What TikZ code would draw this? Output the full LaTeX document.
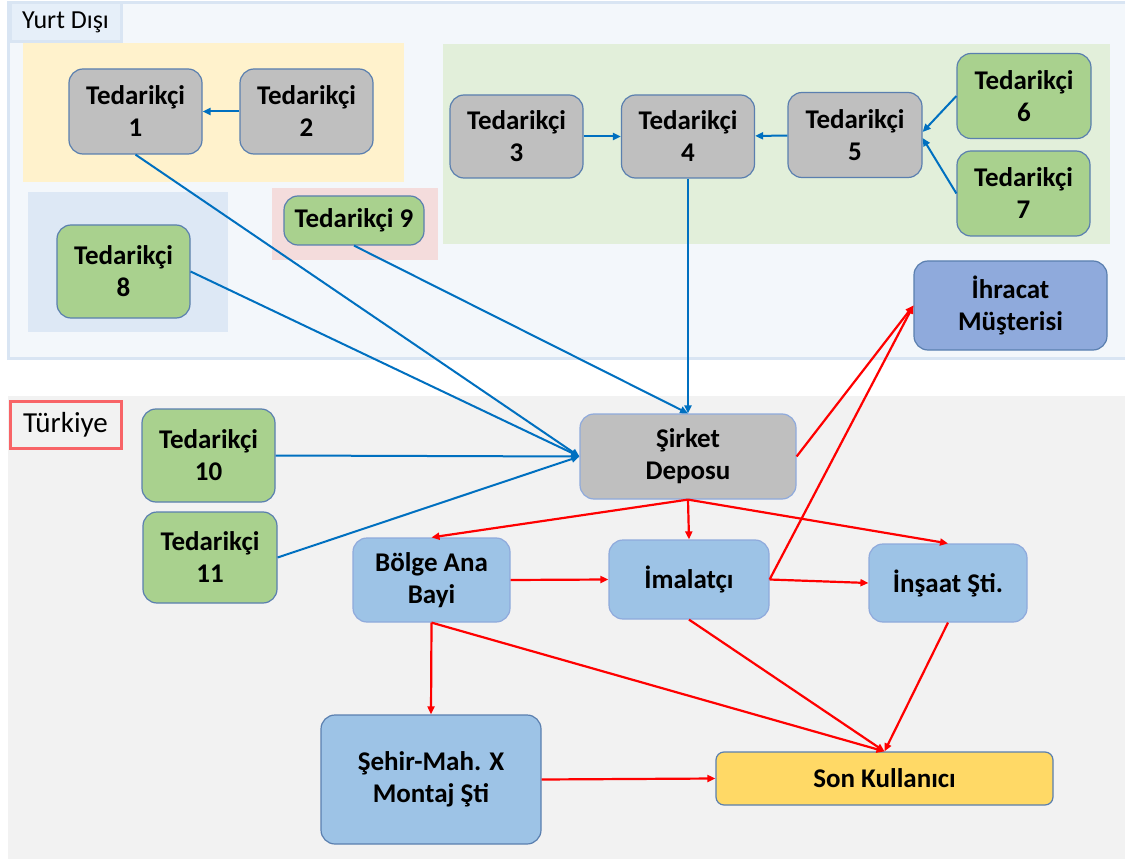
\documentclass[tikz,border=0pt]{standalone}
\usepackage{fontspec}
\setmainfont{Carlito}
\usetikzlibrary{arrows.meta}

\definecolor{outerfill}{HTML}{F3F7FB}
\definecolor{outerline}{HTML}{D9E5F3}
\definecolor{labelfill}{HTML}{E6EFF9}
\definecolor{yellowzone}{HTML}{FFF2CC}
\definecolor{bluezone}{HTML}{DDE8F5}
\definecolor{pinkzone}{HTML}{F4DCDC}
\definecolor{greenzone}{HTML}{E2EFDA}
\definecolor{grayzone}{HTML}{F2F2F2}
\definecolor{turkred}{HTML}{F86467}
\definecolor{boxgray}{HTML}{BFBFBF}
\definecolor{boxgreen}{HTML}{A9D18E}
\definecolor{boxblue}{HTML}{9DC3E6}
\definecolor{boxexport}{HTML}{8FAADC}
\definecolor{boxyellow}{HTML}{FFD966}
\definecolor{edgedark}{HTML}{5A7FAF}
\definecolor{edgelight}{HTML}{8FAADC}
\definecolor{lineblue}{HTML}{0070C0}
\definecolor{linered}{HTML}{FF0000}

\begin{document}
\begin{tikzpicture}[x=1pt,y=-1pt,
  box/.style={rounded corners=14pt, line width=1.2pt, align=center, inner sep=2pt,
    font=\bfseries\fontsize{27}{32}\selectfont},
  graybox/.style={box, fill=boxgray, draw=edgedark},
  greenbox/.style={box, fill=boxgreen, draw=edgedark},
  bluebox/.style={box, fill=boxblue, draw=edgelight},
  tsize/.style={minimum width=133pt, minimum height=85pt},
  bline/.style={draw=lineblue, line width=2pt, -{Triangle[length=8pt,width=7pt]}},
  rline/.style={draw=linered, line width=2.2pt, -{Triangle[length=8pt,width=7pt]}}]

\useasboundingbox (0,0) rectangle (1125,861);
\fill[white] (0,0) rectangle (1125,861);

% Yurt Disi
\draw[outerline, fill=outerfill, line width=3pt] (8,3) rectangle (1140,358);
\fill[yellowzone] (23,43) rectangle (404,182);
\fill[bluezone] (28,192) rectangle (228,332);
\fill[pinkzone] (272,188) rectangle (438,260);
\fill[greenzone] (443,44) rectangle (1110,244);
\node[draw=outerline, fill=labelfill, line width=3pt, minimum width=111pt, minimum height=39pt,
  font=\fontsize{26}{30}\selectfont] (yurtlabel) at (65.5,22.5) {Yurt Dışı};

% Turkiye
\fill[grayzone] (8,396) rectangle (1125,859);
\node[draw=turkred, line width=3pt, minimum width=111pt, minimum height=47pt,
  font=\fontsize{29}{34}\selectfont] (trlabel) at (65.5,424.5) {Türkiye};

\node[graybox, tsize] (t1) at (135.5,111.5) {Tedarikçi\\1};
\node[graybox, tsize] (t2) at (306.5,111.5) {Tedarikçi\\2};
\node[graybox, tsize, minimum height=83pt] (t3) at (516.5,136.5) {Tedarikçi\\3};
\node[graybox, tsize, minimum height=83pt] (t4) at (688,136.5) {Tedarikçi\\4};
\node[graybox, tsize, minimum width=134pt] (t5) at (855,135) {Tedarikçi\\5};
\node[greenbox, tsize, minimum width=134pt] (t6) at (1024,96) {Tedarikçi\\6};
\node[greenbox, tsize] (t7) at (1023.5,193.5) {Tedarikçi\\7};
\node[greenbox, tsize, minimum height=93pt] (t8) at (123.5,271.5) {Tedarikçi\\8};
\node[greenbox, minimum width=140pt, minimum height=49pt] (t9) at (354,220.5) {Tedarikçi 9};
\node[greenbox, tsize, minimum height=93pt] (t10) at (208.5,455.5) {Tedarikçi\\10};
\node[greenbox, tsize, minimum width=134pt, minimum height=91pt] (t11) at (210,557.5) {Tedarikçi\\11};

\node[box, fill=boxexport, draw=edgedark, minimum width=193pt, minimum height=89pt] (ihracat) at (1010.5,305.5) {İhracat\\Müşterisi};
\node[box, fill=boxgray, draw=edgelight, minimum width=216pt, minimum height=85pt] (depo) at (688,456.5) {Şirket\\Deposu};
\node[bluebox, minimum width=157pt, minimum height=84pt] (bayi) at (431.5,580) {Bölge Ana\\Bayi};
\node[bluebox, minimum width=160pt, minimum height=79pt] (imalatci) at (689,579.5) {İmalatçı};
\node[bluebox, minimum width=158pt, minimum height=78pt] (insaat) at (948,583) {İnşaat Şti.};
\node[box, fill=boxblue, draw=edgedark, minimum width=220pt, minimum height=129pt] (montaj) at (431,779.5) {Şehir-Mah. X\\Montaj Şti};
\node[box, fill=boxyellow, draw=edgedark, rounded corners=8pt, minimum width=337pt, minimum height=53pt] (son) at (884.5,778.5) {Son Kullanıcı};

% tedarik akisi
\draw[bline] (t2) -- (t1);
\draw[bline] (t3) -- (t4);
\draw[bline] (t5) -- (t4);
\draw[bline] (t6.west) -- ([yshift=3pt]t5.east);
\draw[bline] (t7.west) -- ([yshift=-3pt]t5.east);
\draw[bline] (t4.south) -- (depo.north);
\draw[bline] (t9.south) -- (depo.north);
\draw[bline] (t1.south) -- (depo.west);
\draw[bline] (t8.east) -- (depo.west);
\draw[bline] (t10.east) -- (depo.west);
\draw[bline] (t11.east) -- (depo.west);

% dagitim akisi
\draw[rline] (depo.south) -- (bayi.north);
\draw[rline] (depo.south) -- (imalatci.north);
\draw[rline] (depo.south) -- (insaat.north);
\draw[rline] (depo.east) -- (ihracat.west);
\draw[rline] (imalatci.east) -- (ihracat.west);
\draw[rline] (bayi.east) -- (imalatci.west);
\draw[rline] (imalatci.east) -- (insaat.west);
\draw[rline] (bayi.south) -- (montaj.north);
\draw[rline] (bayi.south) -- (son.north);
\draw[rline] (imalatci.south) -- (son.north);
\draw[rline] (insaat.south) -- (son.north);
\draw[rline] (montaj.east) -- (son.west);
\end{tikzpicture}
\end{document}
